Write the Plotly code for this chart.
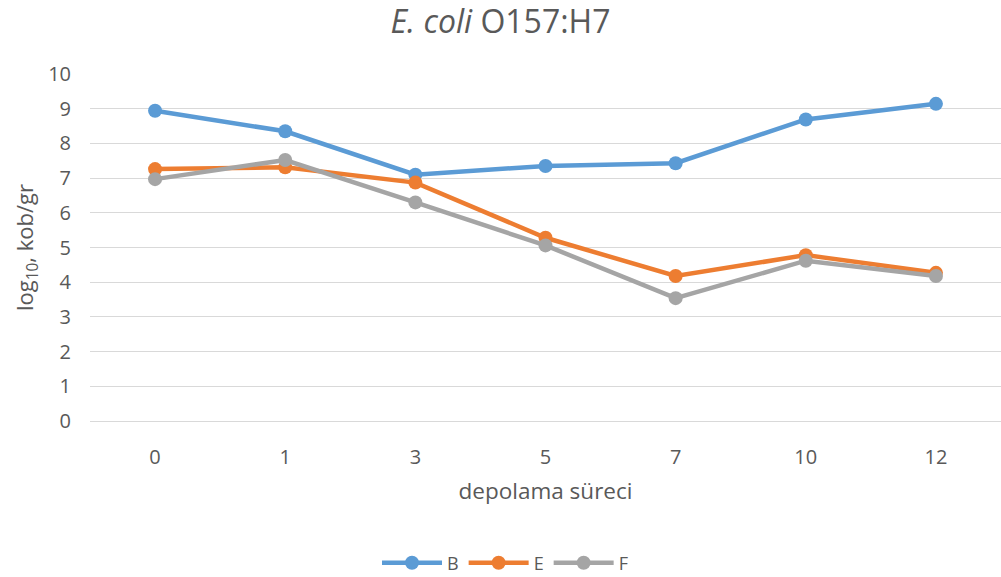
import plotly.graph_objects as go

categories = ["0", "1", "3", "5", "7", "10", "12"]
B = [8.94, 8.35, 7.10, 7.35, 7.43, 8.69, 9.14]
E = [7.26, 7.31, 6.87, 5.28, 4.18, 4.78, 4.27]
F = [6.97, 7.52, 6.30, 5.06, 3.54, 4.62, 4.18]
y_ticks = list(range(0, 11))

series = [("B", B, "#5B9BD5"), ("E", E, "#ED7D31"), ("F", F, "#A5A5A5")]

fig = go.Figure()
for name, vals, col in series:
    fig.add_trace(go.Scatter(
        x=categories, y=vals, name=name, mode="lines+markers",
        line=dict(color=col, width=4.5),
        marker=dict(color=col, size=14),
    ))

font_family = "'Open Sans', sans-serif"
fig.update_layout(
    width=1001, height=577,
    margin=dict(l=90, r=0, t=74, b=156, autoexpand=False),
    paper_bgcolor="white", plot_bgcolor="white",
    font=dict(family=font_family, color="#595959", size=18),
    title=dict(text="<i>E. coli</i> O157:H7", x=0.5, xanchor="center",
               y=1 - 22 / 577, yanchor="middle",
               font=dict(size=32, color="#595959", family=font_family)),
    xaxis=dict(type="category", range=[-0.5, 6.5], showgrid=False,
               showline=False, zeroline=False, ticks="",
               ticklabelstandoff=22,
               tickfont=dict(size=20),
               title=dict(text="depolama süreci", standoff=14,
                          font=dict(size=22.5, color="#595959"))),
    yaxis=dict(range=[0, 10], tickvals=y_ticks, showgrid=True,
               gridcolor="#D9D9D9", gridwidth=1.3, zeroline=True,
               zerolinecolor="#D9D9D9", zerolinewidth=1.3,
               showline=False, ticks="", ticklabelstandoff=18,
               tickfont=dict(size=20),
               title=dict(text="log<sub>10</sub>, kob/gr", standoff=8,
                          font=dict(size=22, color="#595959"))),
    legend=dict(orientation="h", xref="container", x=505 / 1001,
                xanchor="center",
                y=(421 - 563) / 347, yanchor="middle",
                font=dict(size=18, color="#595959"),
                itemwidth=60),
    showlegend=True,
)

fig.write_html("out.html", config={"displayModeBar": False},
               post_script="document.body.style.margin='0';document.body.style.padding='0';")
